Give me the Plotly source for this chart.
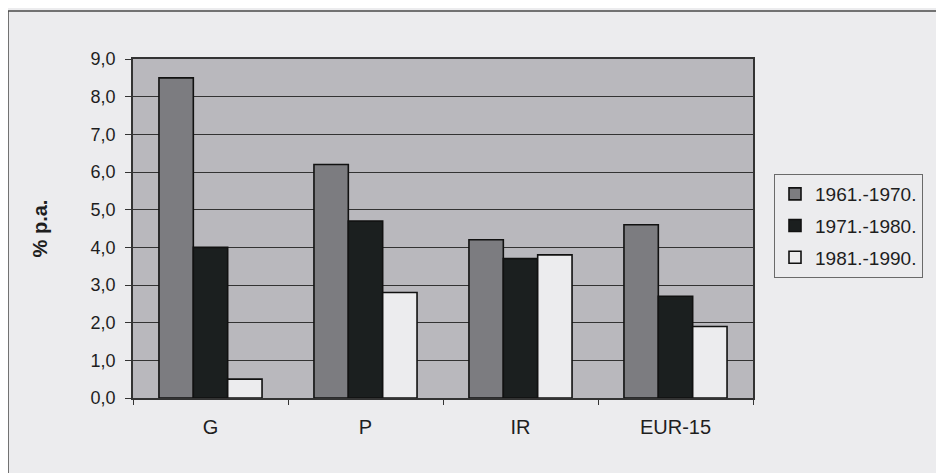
import plotly.graph_objects as go

categories = ["G", "P", "IR", "EUR-15"]
series_names = ["1961.-1970.", "1971.-1980.", "1981.-1990."]
v_1961_1970 = [8.5, 6.2, 4.2, 4.6]
v_1971_1980 = [4.0, 4.7, 3.7, 2.7]
v_1981_1990 = [0.5, 2.8, 3.8, 1.9]
y_ticks = [0, 1, 2, 3, 4, 5, 6, 7, 8, 9]

colors = ["#7c7c80", "#1b1f1f", "#ececee"]
series_values = [v_1961_1970, v_1971_1980, v_1981_1990]

# page is rendered with an 8px body margin
OFF = 8
W, H = 944, 473
L = 133 - OFF
T = 59 - OFF
R = W - (753 - OFF)
B = H - (398 - OFF)
pw, ph = W - L - R, H - T - B

fig = go.Figure()
for i, (name, vals) in enumerate(zip(series_names, series_values)):
    fig.add_trace(go.Bar(
        x=categories, y=vals, name=name, legendgroup=name,
        marker=dict(color=colors[i], line=dict(color="#111111", width=1.6)),
    ))

def px_x(x):
    return (x - OFF - L) / pw

def px_y(y):
    return (H - B - (y - OFF)) / ph

page_bg = "#ececee"
fig.update_layout(
    width=W, height=H,
    margin=dict(l=L, r=R, t=T, b=B, pad=0),
    paper_bgcolor=page_bg,
    plot_bgcolor="#b9b8bd",
    barmode="group", bargap=0.335, bargroupgap=0,
    separators=", ",
    font=dict(family="Liberation Sans, Arial, sans-serif", color="#1e1e1e"),
    showlegend=True,
    legend=dict(
        x=px_x(774), y=px_y(174), xanchor="left", yanchor="top",
        bgcolor=page_bg, bordercolor="#6a6a6a", borderwidth=1,
        font=dict(size=19, color="#1e1e1e"),
        tracegroupgap=4, itemwidth=30,
    ),
    xaxis=dict(
        showgrid=False, showline=True, linecolor="#333333", linewidth=1.5,
        mirror=True, ticks="outside", ticklen=5, tickcolor="#333333",
        tickson="boundaries", tickfont=dict(size=20, color="#1e1e1e"),
        ticklabelstandoff=10,
    ),
    yaxis=dict(
        range=[0, 9], tickvals=y_ticks, tickformat=".1f",
        showgrid=True, gridcolor="#333333", gridwidth=1.4,
        showline=True, linecolor="#333333", linewidth=1.5, mirror=True,
        ticks="outside", ticklen=6, tickcolor="#333333",
        tickfont=dict(size=18, color="#1e1e1e"),
        ticklabelstandoff=6,
        zeroline=False,
        title=dict(text="<b>% p.a.</b>", font=dict(size=20, color="#1e1e1e"), standoff=38),
    ),
    shapes=[
        dict(type="path", xref="paper", yref="paper",
             path=f"M {px_x(8)},{px_y(490)} L {px_x(8)},{px_y(11)} L {px_x(990)},{px_y(11)}",
             line=dict(color="#4a4a4a", width=1.5)),
    ],
)

fig.write_html("out.html")
